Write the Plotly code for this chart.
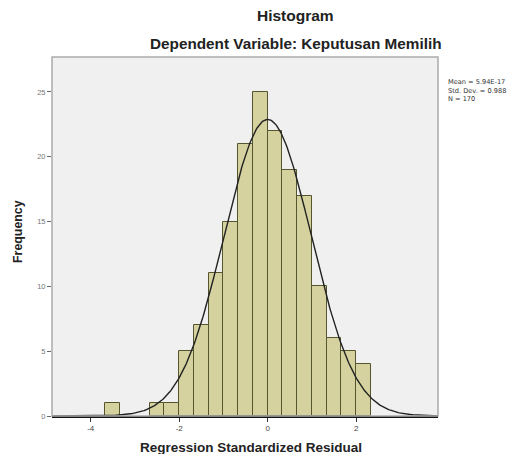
import numpy as np
import plotly.graph_objects as go

# Histogram data
bin_centers = [-3.5, -2.5, -2.1667, -1.8333, -1.5, -1.1667, -0.8333, -0.5,
               -0.1667, 0.1667, 0.5, 0.8333, 1.1667, 1.5, 1.8333, 2.1667]
counts = [1, 1, 1, 5, 7, 11, 15, 21, 25, 22, 19, 17, 10, 6, 5, 4]
bin_width = 1 / 3

# Summary statistics
mean_val = 5.94e-17
std_val = 0.988
n_val = 170
stats_lines = ["Mean = 5.94E-17", f"Std. Dev. = {std_val}", f"N = {n_val}"]

x_ticks = [-4, -2, 0, 2]
y_ticks = [0, 5, 10, 15, 20, 25]
x_range = [-4.875, 3.85]
y_range = [0, 27.7]

FONT = "Arial, Liberation Sans, sans-serif"

fig = go.Figure()
fig.add_trace(go.Bar(
    x=bin_centers, y=counts, width=bin_width,
    marker=dict(color="#d5d2a0", line=dict(color="#55552e", width=1)),
    hoverinfo="x+y", showlegend=False,
))

xs = np.linspace(x_range[0], x_range[1], 400)
ys = n_val * bin_width / (std_val * np.sqrt(2 * np.pi)) * np.exp(-0.5 * ((xs - mean_val) / std_val) ** 2)
fig.add_trace(go.Scatter(x=xs, y=ys, mode="lines",
                         line=dict(color="#222222", width=1.4),
                         showlegend=False, hoverinfo="skip"))

annotations = [
    dict(text="<b>Histogram</b>", xref="paper", yref="paper", x=0.632, y=1.0,
         xanchor="center", yanchor="middle", yshift=42, showarrow=False,
         font=dict(size=15.5, color="#222222")),
    dict(text="<b>Dependent Variable: Keputusan Memilih</b>", xref="paper", yref="paper",
         x=0.632, y=1.0, xanchor="center", yanchor="middle", yshift=14, showarrow=False,
         font=dict(size=15.3, color="#222222")),
    dict(text="<b>Regression Standardized Residual</b>", xref="paper", yref="paper",
         x=0.5155, y=0.0, xanchor="center", yanchor="middle", yshift=-31.5, showarrow=False,
         font=dict(size=13.5, color="#222222")),
    dict(text="<b>Frequency</b>", xref="paper", yref="paper", textangle=-90,
         x=0.0, y=0.5125, xanchor="center", yanchor="middle", xshift=-34, showarrow=False,
         font=dict(size=12.4, color="#222222")),
    dict(text="<br>".join(stats_lines), xref="paper", yref="paper", x=1.0, y=1.0,
         xanchor="left", yanchor="top", xshift=8, yshift=-19, align="left",
         showarrow=False, font=dict(size=6.6, color="#333333",
                                     family="DejaVu Sans, sans-serif")),
]

fig.update_layout(
    width=515, height=446,
    margin=dict(l=44, r=85, t=49, b=38, autoexpand=False),
    paper_bgcolor="white", plot_bgcolor="#f0f0f0",
    font=dict(family=FONT, color="#222222"),
    bargap=0,
    xaxis=dict(range=x_range, tickvals=x_ticks, ticktext=[str(v) for v in x_ticks],
               showgrid=False, zeroline=False, showline=True, linecolor="#111111",
               linewidth=1.5, ticks="outside", ticklen=4, tickcolor="#333333",
               tickfont=dict(size=8, color="#444444"), automargin=False),
    yaxis=dict(range=y_range, tickvals=y_ticks, showgrid=False, zeroline=False,
               showline=False, ticks="outside", ticklen=4, tickcolor="#666666",
               tickfont=dict(size=7.5, color="#777777"), automargin=False),
    shapes=[dict(type="rect", xref="paper", yref="paper", x0=0, x1=1, y0=0, y1=1,
                 line=dict(color="#aaaaaa", width=1.5), layer="above")],
    annotations=annotations,
)
fig.write_html("out.html")
